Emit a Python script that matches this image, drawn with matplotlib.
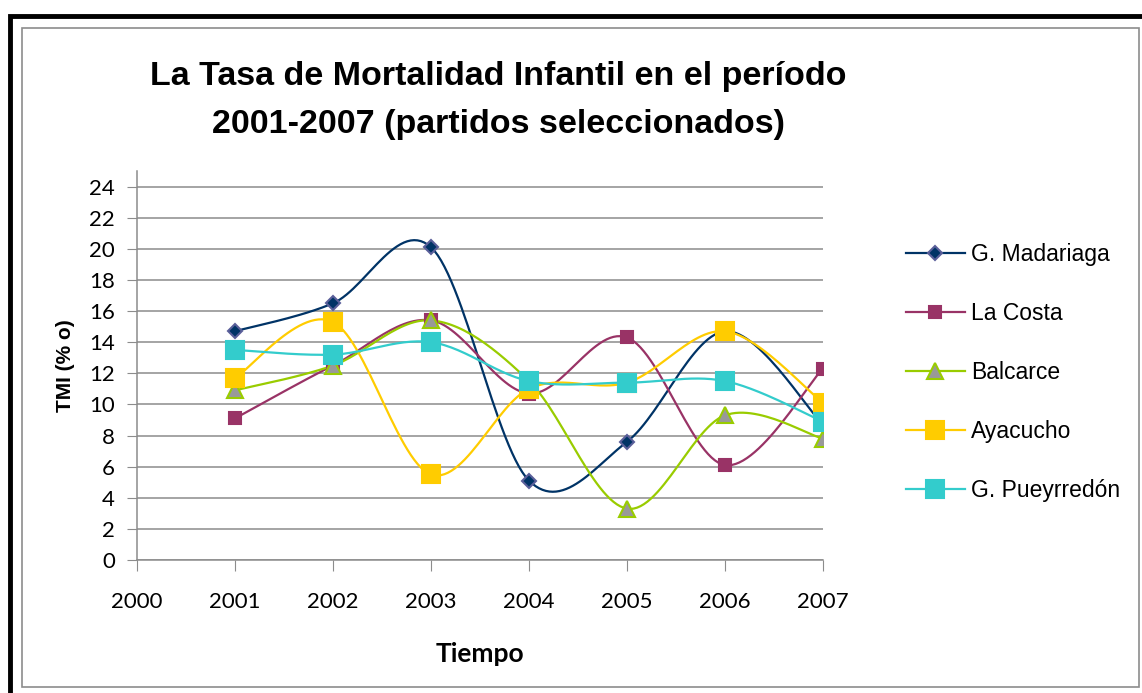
import numpy as np
import matplotlib
matplotlib.use("Agg")
import matplotlib.pyplot as plt
from matplotlib.patches import Rectangle
from matplotlib.lines import Line2D

years = [2001, 2002, 2003, 2004, 2005, 2006, 2007]
madariaga = [14.7, 16.5, 20.1, 5.1, 7.6, 14.7, 8.7]
la_costa = [9.1, 12.5, 15.4, 10.7, 14.3, 6.1, 12.3]
balcarce = [10.9, 12.5, 15.4, 11.5, 3.3, 9.3, 7.8]
ayacucho = [11.7, 15.3, 5.5, 11.0, 11.4, 14.7, 10.1]
pueyrredon = [13.5, 13.2, 14.0, 11.5, 11.4, 11.5, 8.9]

x_ticks = [2000, 2001, 2002, 2003, 2004, 2005, 2006, 2007]
y_ticks = list(range(0, 25, 2))

W, H = 1142, 693


def smooth(xs, ys, n=30):
    # excel-style smoothed line: bezier through points, control = p +- (next - prev)/6
    xs = np.asarray(xs, float)
    ys = np.asarray(ys, float)
    px = np.concatenate([[xs[0]], xs, [xs[-1]]])
    py = np.concatenate([[ys[0]], ys, [ys[-1]]])
    outx, outy = [], []
    t = np.linspace(0, 1, n)
    for i in range(1, len(px) - 2):
        p0 = np.array([px[i], py[i]])
        p3 = np.array([px[i + 1], py[i + 1]])
        c1 = p0 + (np.array([px[i + 1], py[i + 1]]) - np.array([px[i - 1], py[i - 1]])) / 6
        c2 = p3 - (np.array([px[i + 2], py[i + 2]]) - np.array([px[i], py[i]])) / 6
        b = ((1 - t) ** 3)[:, None] * p0 + (3 * (1 - t) ** 2 * t)[:, None] * c1 \
            + (3 * (1 - t) * t ** 2)[:, None] * c2 + (t ** 3)[:, None] * p3
        outx.extend(b[:, 0])
        outy.extend(b[:, 1])
    return outx, outy


fig = plt.figure(figsize=(W / 100, H / 100), dpi=100)

# frames
fig.patches.append(Rectangle((10 / W, -0.1), 1.2, (H - 16) / H + 0.1, transform=fig.transFigure,
                             fill=False, edgecolor="black", linewidth=3.5))
fig.patches.append(Rectangle((22 / W, 1 - 687 / H), (1139 - 22) / W, (687 - 28) / H,
                             transform=fig.transFigure, fill=False, edgecolor="#8c8c8c", linewidth=1.2))

left, right = 137 / W, 823 / W
bottom, top = 1 - 560 / H, 1 - 171 / H
ax = fig.add_axes([left, bottom, right - left, top - bottom])

series = [
    ("G. Madariaga", madariaga, "#003366", "D", "#003366", "#5a5f9a", 7),
    ("La Costa", la_costa, "#993366", "s", "#993366", "#993366", 8),
    ("Balcarce", balcarce, "#99cc00", "^", "#999999", "#99cc00", 11),
    ("Ayacucho", ayacucho, "#ffcc00", "s", "#ffcc00", "#ffcc00", 13),
    ("G. Pueyrredón", pueyrredon, "#33cccc", "s", "#33cccc", "#33cccc", 13),
]

handles = []
for name, vals, lc, mk, mfc, mec, ms in series:
    sx, sy = smooth(years, vals)
    ax.plot(sx, sy, color=lc, linewidth=1.6, zorder=3)
    ax.plot(years, vals, linestyle="none", marker=mk, markersize=ms,
            markerfacecolor=mfc, markeredgecolor=mec, markeredgewidth=1.5, zorder=4)
    handles.append(Line2D([], [], color=lc, linewidth=1.6, marker=mk, markersize=ms,
                          markerfacecolor=mfc, markeredgecolor=mec, markeredgewidth=1.5))

ax.set_xlim(2000, 2007)
ax.set_ylim(0, 25)
ax.set_xticks(x_ticks)
ax.set_yticks(y_ticks)
ax.grid(axis="y", color="#8c8c8c", linewidth=1.1)
ax.set_axisbelow(True)
for s in ["top", "right"]:
    ax.spines[s].set_visible(False)
for s in ["left", "bottom"]:
    ax.spines[s].set_color("#8c8c8c")
    ax.spines[s].set_linewidth(1.1)
ax.tick_params(axis="x", direction="out", length=8, color="#8c8c8c", pad=15,
               labelsize=16)
ax.tick_params(axis="y", direction="out", length=7, color="#8c8c8c", pad=9,
               labelsize=16)
for lab in ax.get_xticklabels() + ax.get_yticklabels():
    lab.set_family("Lato")

ax.set_xlabel("Tiempo", fontsize=19, fontweight="bold", family="Lato", labelpad=22)
ax.set_ylabel("TMI (% o)", fontsize=15, fontweight="bold", family="Liberation Sans", labelpad=10)

fig.text(498 / W, 1 - 77 / H, "La Tasa de Mortalidad Infantil en el período",
         ha="center", va="center", fontsize=24.5, fontweight="bold", family="Liberation Sans")
fig.text(498 / W, 1 - 125 / H, "2001-2007 (partidos seleccionados)",
         ha="center", va="center", fontsize=24.5, fontweight="bold", family="Liberation Sans")

leg = fig.legend(handles=[h for h in handles], labels=[s[0] for s in series],
                 loc="upper left", bbox_to_anchor=(885 / W, 1 - 222 / H),
                 frameon=False, prop={"family": "Liberation Sans", "size": 16.5},
                 handlelength=2.6, handletextpad=0.25, labelspacing=1.57)

fig.savefig("out.png", dpi=100)
